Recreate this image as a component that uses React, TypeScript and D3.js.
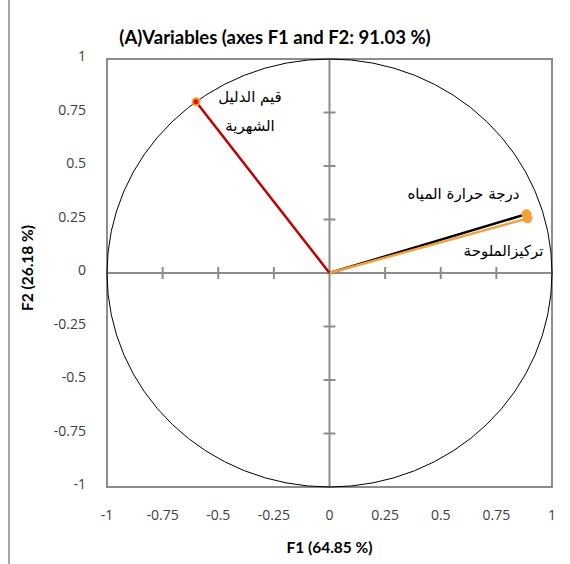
import { useEffect, useRef } from 'react';
import * as d3 from 'd3';

// variable names and their loadings on F1 / F2
const variables = ['قيم الدليل الشهرية', 'درجة حرارة المياه', 'تركيزالملوحة'];
const f1Values = [-0.6, 0.885, 0.89];
const f2Values = [0.8, 0.275, 0.255];
const tickValues = [-1, -0.75, -0.5, -0.25, 0, 0.25, 0.5, 0.75, 1];
const tickLabels = ['-1', '-0.75', '-0.5', '-0.25', '0', '0.25', '0.5', '0.75', '1'];

const title = '(A)Variables (axes F1 and F2: 91.03 %)';
const xTitle = 'F1 (64.85 %)';
const yTitle = 'F2 (26.18 %)';

const lineColors = ['#c00000', '#000000', '#f5a03c'];
const labelLines = [['قيم الدليل', 'الشهرية'], ['درجة حرارة المياه'], ['تركيزالملوحة']];
const labelOffsets = [
  [[54, 0], [54, 29]],
  [[-63, -15]],
  [[-24, 38]],
];

const App = () => {
  const ref = useRef<SVGSVGElement>(null);

  useEffect(() => {
    const svg = d3.select(ref.current);
    svg.selectAll('*').remove();

    const x = d3.scaleLinear().domain([-1, 1]).range([107, 552]);
    const y = d3.scaleLinear().domain([-1, 1]).range([487, 59]);
    const grey = '#8c8c8c';
    const tickFont = '"Open Sans", "DejaVu Sans", sans-serif';

    // outer frame edge
    svg.append('line')
      .attr('x1', 9).attr('x2', 9).attr('y1', 0).attr('y2', 564)
      .attr('stroke', '#a6a6a6').attr('stroke-width', 2);

    // plot border
    svg.append('rect')
      .attr('x', x(-1)).attr('y', y(1))
      .attr('width', x(1) - x(-1)).attr('height', y(-1) - y(1))
      .attr('fill', 'none').attr('stroke', grey).attr('stroke-width', 2);

    // centre axes
    svg.append('line')
      .attr('x1', x(-1)).attr('x2', x(1)).attr('y1', y(0)).attr('y2', y(0))
      .attr('stroke', grey).attr('stroke-width', 2);
    svg.append('line')
      .attr('x1', x(0)).attr('x2', x(0)).attr('y1', y(-1)).attr('y2', y(1))
      .attr('stroke', grey).attr('stroke-width', 2);

    // cross ticks on the centre axes
    const inner = tickValues.filter(v => v !== -1 && v !== 1 && v !== 0);
    svg.append('g').selectAll('line').data(inner).enter().append('line')
      .attr('x1', d => x(d)).attr('x2', d => x(d))
      .attr('y1', y(0) - 6).attr('y2', y(0) + 6)
      .attr('stroke', grey).attr('stroke-width', 2);
    svg.append('g').selectAll('line').data(inner).enter().append('line')
      .attr('y1', d => y(d)).attr('y2', d => y(d))
      .attr('x1', x(0) - 6).attr('x2', x(0) + 6)
      .attr('stroke', grey).attr('stroke-width', 2);

    // tick labels
    svg.append('g').selectAll('text').data(tickValues).enter().append('text')
      .attr('x', d => x(d)).attr('y', 520)
      .attr('text-anchor', 'middle')
      .style('font-family', tickFont).style('font-size', '14px').attr('fill', '#404040')
      .text((d, i) => tickLabels[i]);
    svg.append('g').selectAll('text').data(tickValues).enter().append('text')
      .attr('x', 86).attr('y', d => y(d) + 2)
      .attr('text-anchor', 'end')
      .style('font-family', tickFont).style('font-size', '14px').attr('fill', '#404040')
      .text((d, i) => tickLabels[i]);

    // correlation circle
    svg.append('ellipse')
      .attr('cx', x(0)).attr('cy', y(0))
      .attr('rx', x(1) - x(0)).attr('ry', y(-1) - y(0))
      .attr('fill', 'none').attr('stroke', '#000').attr('stroke-width', 1);

    // vectors
    const idx = d3.range(variables.length);
    svg.append('g').selectAll('line').data(idx).enter().append('line')
      .attr('x1', x(0)).attr('y1', y(0))
      .attr('x2', i => x(f1Values[i])).attr('y2', i => y(f2Values[i]))
      .attr('stroke', i => lineColors[i]).attr('stroke-width', 2.5);

    // end markers
    svg.append('g').selectAll('circle').data(idx).enter().append('circle')
      .attr('cx', i => x(f1Values[i])).attr('cy', i => y(f2Values[i]))
      .attr('r', i => (i === 0 ? 3.5 : 4.5))
      .attr('fill', i => (i === 0 ? '#e01010' : '#f5a03c'))
      .attr('stroke', '#f5a03c').attr('stroke-width', i => (i === 0 ? 2 : 1));

    // variable labels
    idx.forEach(i => {
      labelLines[i].forEach((line, j) => {
        svg.append('text')
          .attr('x', x(f1Values[i]) + labelOffsets[i][j][0])
          .attr('y', y(f2Values[i]) + labelOffsets[i][j][1])
          .attr('text-anchor', 'middle')
          .attr('direction', 'rtl')
          .style('font-family', '"DejaVu Sans", sans-serif').style('font-size', '15px')
          .attr('fill', '#000')
          .text(line);
      });
    });

    // titles
    svg.append('text').text(title)
      .attr('x', 275).attr('y', 44).attr('text-anchor', 'middle')
      .style('font-family', 'Lato, sans-serif').style('font-weight', 'bold').style('font-size', '18.5px')
      .attr('fill', '#000');
    svg.append('text').text(xTitle)
      .attr('x', x(0)).attr('y', 553).attr('text-anchor', 'middle')
      .style('font-family', 'Lato, sans-serif').style('font-weight', 'bold').style('font-size', '15.5px')
      .attr('fill', '#000');
    svg.append('text').text(yTitle)
      .attr('transform', `translate(33,${268}) rotate(-90)`).attr('text-anchor', 'middle')
      .style('font-family', 'Lato, sans-serif').style('font-weight', 'bold').style('font-size', '15.5px')
      .attr('fill', '#000');
  }, []);

  return (
    <div style={{ position: 'absolute', left: 0, top: 0 }}>
      <svg ref={ref} width={570} height={564} style={{ display: 'block', background: '#fff' }} />
    </div>
  );
};

export default App;
